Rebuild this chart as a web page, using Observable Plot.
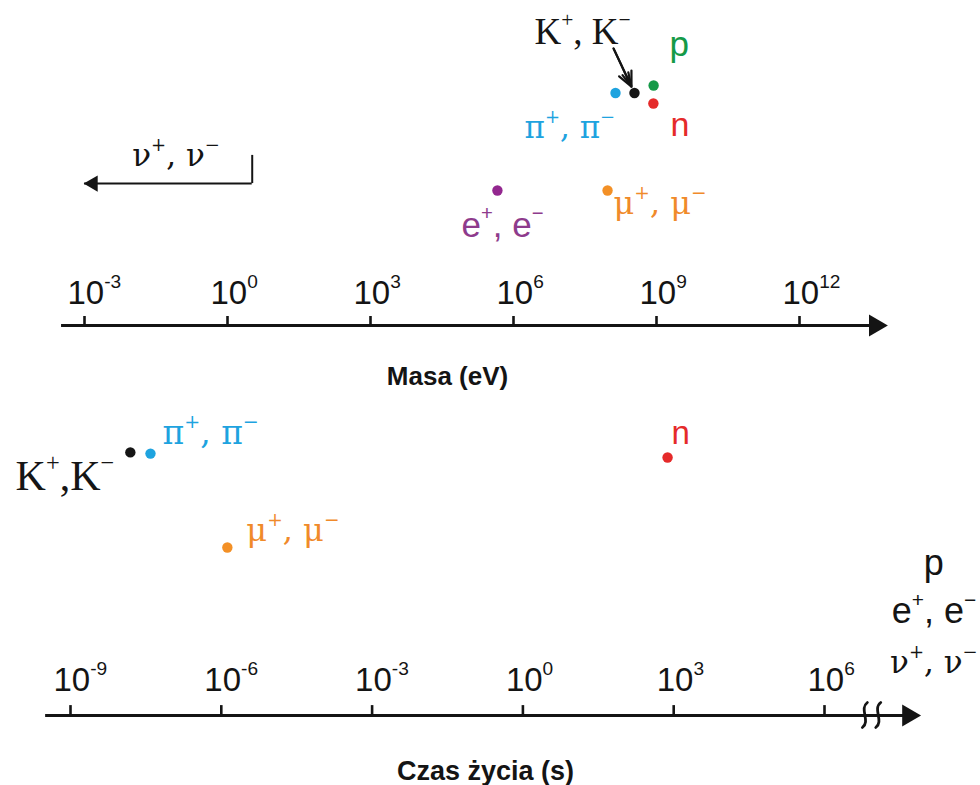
<!DOCTYPE html>
<html>
<head>
<meta charset="utf-8">
<script src="https://cdn.jsdelivr.net/npm/d3@7"></script>
<script src="https://cdn.jsdelivr.net/npm/@observablehq/plot@0.6"></script>
<style>
  html, body { margin: 0; padding: 0; background: #fff; }
  #chart { width: 980px; height: 785px; overflow: hidden; background: #fff; }
  #chart svg { display: block; }
</style>
</head>
<body>
<div id="chart"></div>
<script>
// ---------------- DATA ----------------
// Top panel: particle masses in eV
const massKeys   = ["e", "mu", "pi", "K", "p", "n"];
const massLabels = ["e^{+}, e^{−}", "μ^{+}, μ^{−}", "π^{+}, π^{−}", "K^{+}, K^{−}", "p", "n"];
const massValues = [4.6e5, 9.4e7, 1.38e8, 3.45e8, 8.7e8, 8.6e8];
const massRows   = [4.5, 4.5, 7.75, 7.75, 8.0, 7.4];   // vertical lane of each point

const massTicks      = [1e-3, 1, 1e3, 1e6, 1e9, 1e12];
const massTickLabels = ["10^{-3}", "10^{0}", "10^{3}", "10^{6}", "10^{9}", "10^{12}"];
const massAxisSpan   = [3.3e-4, 6.3e13];
const massTitle      = "Masa (eV)";

// neutrinos: upper bound bracket with arrow pointing to lower masses
const neutrinoLabel  = "ν^{+}, ν^{−}";
const neutrinoBound  = 3.3;        // eV (bracket position)
const neutrinoArrowTo = 1e-3;      // eV (arrow tip)
const neutrinoRows   = [4.73, 5.67];

// K label pointer start (mass, lane)
const kPointerFrom = [1.26e8, 9.23];

// Bottom panel: lifetimes in seconds
const lifeKeys   = ["K", "pi", "mu", "n"];
const lifeLabels = ["K^{+},K^{−}", "π^{+}, π^{−}", "μ^{+}, μ^{−}", "n"];
const lifeValues = [1.55e-8, 3.9e-8, 1.32e-6, 755];
const lifeRows   = [8.77, 8.73, 5.6, 8.6];

const lifeTicks      = [1e-9, 1e-6, 1e-3, 1, 1e3, 1e6];
const lifeTickLabels = ["10^{-9}", "10^{-6}", "10^{-3}", "10^{0}", "10^{3}", "10^{6}"];
const lifeAxisSpan   = [3.2e-10, 7.4e7];
const lifeBreaks     = [6.5e6, 1.2e7];
const lifeTitle      = "Czas życia (s)";

// stable particles (beyond the axis break)
const stableLabels   = ["p", "e^{+}, e^{−}", "ν^{+}, ν^{−}"];
const stableFonts    = ["sans", "sans", "greek"];
const stableRows     = [4.67, 3.07, 1.43];
const stableLifetime = 1.5e8;

// ---------------- STYLE ----------------
const colors = {e: "#93278f", mu: "#f39026", pi: "#1ea3df", K: "#151515", p: "#159a48", n: "#e52a2a"};
const labelColors = {e: "#8e3b8c", mu: "#f08a2a", pi: "#1ea3df", K: "#151515", p: "#159a48", n: "#e52a2a"};
const SERIF = "'Liberation Serif','Times New Roman',serif";
const GREEK = "'DejaVu Serif','Liberation Serif',serif";
const SANS  = "'Liberation Sans',Arial,Helvetica,sans-serif";
const INK = "#141414";
const fontOf = {e: SANS, mu: GREEK, pi: GREEK, K: SERIF, p: SANS, n: SANS};
const fontFor = {sans: SANS, serif: SERIF, greek: GREEK};

const topLabelStyle = {
  e:  {dx: -36, dy: 46,  anchor: "start", size: 35},
  mu: {dx: 6,   dy: 23,  anchor: "start", size: 32},
  pi: {dx: -91, dy: 45,  anchor: "start", size: 31},
  K:  {dx: -100, dy: -49, anchor: "start", size: 37},
  p:  {dx: 16,  dy: -30, anchor: "start", size: 35},
  n:  {dx: 17,  dy: 32,  anchor: "start", size: 34}
};
const bottomLabelStyle = {
  K:  {dx: -16, dy: 38,  anchor: "end",   size: 42},
  pi: {dx: 12,  dy: -10, anchor: "start", size: 33},
  mu: {dx: 19,  dy: -7,  anchor: "start", size: 32},
  n:  {dx: 4,   dy: -14, anchor: "start", size: 33}
};

const SVGNS = "http://www.w3.org/2000/svg";

// ---------------- helpers ----------------
function applySup(svg) {
  svg.querySelectorAll("text").forEach(t => {
    const s = t.textContent;
    if (!s.includes("^{")) return;
    const holder = t.closest("[font-size]");
    const fs = parseFloat(holder ? holder.getAttribute("font-size") : 12);
    const g = t.closest("g[aria-label]");
    const isTick = g && g.getAttribute("aria-label") === "tick-label";
    const ratio = isTick ? 0.62 : 0.58;
    const raise = (isTick ? 0.6 : 0.47) * fs;
    while (t.firstChild) t.removeChild(t.firstChild);
    const re = /\^\{([^}]*)\}/g;
    let last = 0, m, shifted = false;
    const add = (str, sup) => {
      const ts = document.createElementNS(SVGNS, "tspan");
      ts.textContent = str;
      if (sup) { ts.setAttribute("font-size", (fs * ratio).toFixed(1)); ts.setAttribute("dy", (-raise).toFixed(1)); shifted = true; }
      else if (shifted) { ts.setAttribute("dy", raise.toFixed(1)); shifted = false; }
      t.appendChild(ts);
    };
    while ((m = re.exec(s))) {
      if (m.index > last) add(s.slice(last, m.index), false);
      add(m[1], true);
      last = re.lastIndex;
    }
    if (last < s.length) add(s.slice(last), false);
  });
}

function axisMarks(ticks, tickLabels, span, tickLen, labelDy) {
  return [
    Plot.ruleY([0], {x1: span[0], x2: span[1], stroke: INK, strokeWidth: 3}),
    Plot.dot([span[1]], {x: d => d, y: 0, symbol: "triangle", r: 8.1, rotate: 90, fill: INK, stroke: "none", dx: -10}),
    Plot.ruleX(ticks, {x: d => d, y1: 0, y2: tickLen, stroke: INK, strokeWidth: 2.6}),
    Plot.text(ticks, {x: d => d, y: 0, text: (d, i) => tickLabels[i], textAnchor: "start", lineAnchor: "bottom",
      dx: -17, dy: labelDy, fontSize: 33, fontFamily: SANS, fill: INK, ariaLabel: "tick-label"})
  ];
}

// axis-break squiggles drawn at the scaled break positions
function breakMarks(values) {
  return (index, scales) => {
    const g = document.createElementNS(SVGNS, "g");
    g.setAttribute("aria-label", "axis-break");
    for (const v of values) {
      const cx = scales.x(v), cy = scales.y(0);
      const p = document.createElementNS(SVGNS, "path");
      p.setAttribute("d", `M${cx + 2.5},${cy - 12.5} C${cx - 6},${cy - 6} ${cx + 6},${cy + 6} ${cx - 2.5},${cy + 12.5}`);
      p.setAttribute("fill", "none");
      p.setAttribute("stroke", INK);
      p.setAttribute("stroke-width", 2.8);
      p.setAttribute("stroke-linecap", "round");
      g.appendChild(p);
    }
    return g;
  };
}

// ---------------- TOP: mass ----------------
const topIdx = massKeys.map((_, i) => i);
const massChart = Plot.plot({
  width: 980, height: 400,
  marginTop: 0, marginRight: 0, marginBottom: 0, marginLeft: 0,
  style: {background: "transparent", overflow: "visible"},
  x: {type: "log", domain: [1e-3, 1e12], range: [84, 799], axis: null},
  y: {type: "linear", domain: [0, 10], range: [325, 25], axis: null},
  marks: [
    ...axisMarks(massTicks, massTickLabels, massAxisSpan, 0.3, -22),
    // neutrino bracket + arrow
    Plot.ruleX([neutrinoBound], {x: d => d, y1: neutrinoRows[0], y2: neutrinoRows[1], stroke: INK, strokeWidth: 2}),
    Plot.ruleY([neutrinoRows[0]], {x1: neutrinoArrowTo, x2: neutrinoBound, stroke: INK, strokeWidth: 2}),
    Plot.dot([neutrinoArrowTo], {x: d => d, y: neutrinoRows[0], symbol: "triangle", r: 6, rotate: -90, fill: INK, stroke: "none", dx: 8.5}),
    Plot.text([neutrinoLabel], {x: neutrinoBound, y: neutrinoRows[0], text: d => d, textAnchor: "start", lineAnchor: "bottom",
      dx: -120, dy: -18, fontSize: 31, fontFamily: GREEK, fill: INK}),
    // K pointer
    Plot.arrow([0], {x1: kPointerFrom[0], y1: kPointerFrom[1], x2: massValues[3], y2: massRows[3],
      stroke: INK, strokeWidth: 2.2, headLength: 11, headAngle: 50, insetEnd: 7}),
    Plot.arrow([0], {x1: kPointerFrom[0], y1: kPointerFrom[1], x2: massValues[3], y2: massRows[3],
      stroke: INK, strokeWidth: 2.2, headLength: 10, headAngle: 25, insetEnd: 7}),
    // points
    Plot.dot(topIdx, {x: i => massValues[i], y: i => massRows[i], r: 5.2, fill: i => colors[massKeys[i]], stroke: "none"}),
    // labels
    ...topIdx.map(i => {
      const k = massKeys[i], st = topLabelStyle[k];
      return Plot.text([i], {x: i => massValues[i], y: i => massRows[i], text: i => massLabels[i],
        textAnchor: st.anchor, lineAnchor: "bottom", dx: st.dx, dy: st.dy,
        fontSize: st.size, fontFamily: fontOf[k], fill: labelColors[k]});
    }),
    // axis title
    Plot.text([massTitle], {frameAnchor: "bottom", text: d => d, lineAnchor: "bottom", dx: -43, dy: -16,
      fontSize: 26, fontWeight: "bold", fontFamily: SANS, fill: INK})
  ]
});

// ---------------- BOTTOM: lifetime ----------------
const botIdx = lifeKeys.map((_, i) => i);
const stIdx = stableLabels.map((_, i) => i);
const lifeChart = Plot.plot({
  width: 980, height: 385,
  marginTop: 0, marginRight: 0, marginBottom: 0, marginLeft: 0,
  style: {background: "transparent", overflow: "visible"},
  x: {type: "log", domain: [1e-9, 1e6], range: [70, 824], axis: null},
  y: {type: "linear", domain: [0, 10], range: [315, 15], axis: null},
  marks: [
    ...axisMarks(lifeTicks, lifeTickLabels, lifeAxisSpan, 0.33, -25),
    // axis break squiggles
    breakMarks(lifeBreaks),
    // points
    Plot.dot(botIdx, {x: i => lifeValues[i], y: i => lifeRows[i], r: 5.2, fill: i => colors[lifeKeys[i]], stroke: "none"}),
    ...botIdx.map(i => {
      const k = lifeKeys[i], st = bottomLabelStyle[k];
      return Plot.text([i], {x: i => lifeValues[i], y: i => lifeRows[i], text: i => lifeLabels[i],
        textAnchor: st.anchor, lineAnchor: "bottom", dx: st.dx, dy: st.dy,
        fontSize: st.size, fontFamily: fontOf[k], fill: labelColors[k]});
    }),
    // stable particles
    ...stIdx.map(i => Plot.text([i], {x: stableLifetime, y: i => stableRows[i], text: i => stableLabels[i],
      textAnchor: "middle", lineAnchor: "bottom", fontSize: stableFonts[i] === "greek" ? 31 : 36,
      fontFamily: fontFor[stableFonts[i]], fill: INK})),
    // axis title
    Plot.text([lifeTitle], {frameAnchor: "bottom", text: d => d, lineAnchor: "bottom", dx: -5, dy: -6,
      fontSize: 27, fontWeight: "bold", fontFamily: SANS, fill: INK})
  ]
});

const chart = document.getElementById("chart");
chart.appendChild(massChart);
chart.appendChild(lifeChart);
applySup(massChart);
applySup(lifeChart);
</script>
</body>
</html>
